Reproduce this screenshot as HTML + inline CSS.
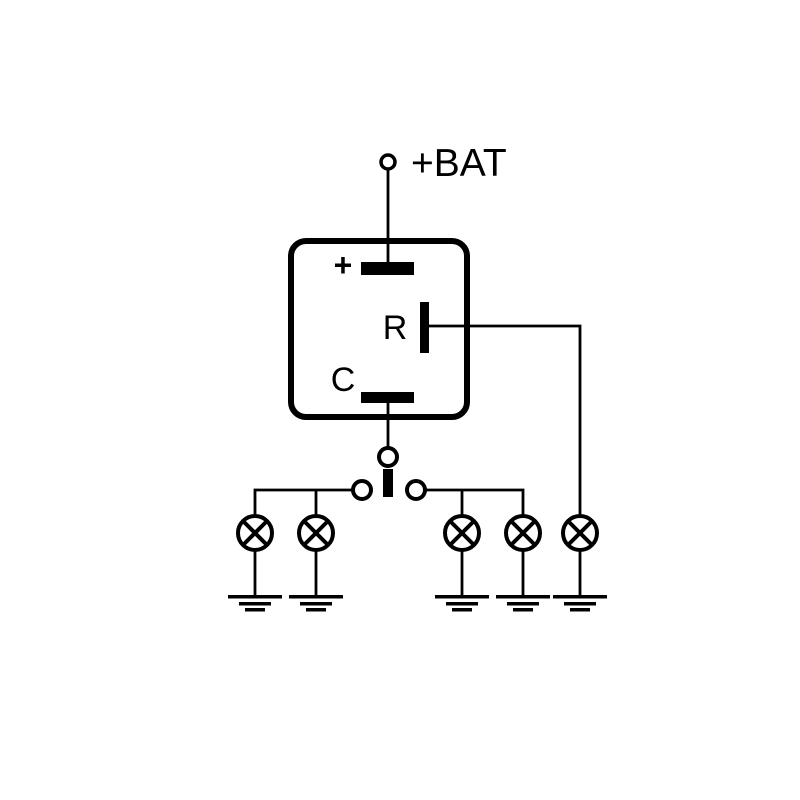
<!DOCTYPE html>
<html><head><meta charset="utf-8"><style>html,body{margin:0;padding:0;background:#fff}svg{display:block}</style></head>
<body>
<svg width="800" height="800" viewBox="0 0 800 800" xmlns="http://www.w3.org/2000/svg" font-family="Liberation Sans, Arial, sans-serif">
<rect width="800" height="800" fill="#fff"/>
<g fill="none" stroke="#000">
  <circle cx="388" cy="162" r="7" stroke-width="3.5"/>
  <line x1="388" y1="169" x2="388" y2="268" stroke-width="2.8"/>
  <rect x="291" y="241" width="176" height="176" rx="15" stroke-width="6"/>
  <line x1="388" y1="400" x2="388" y2="447" stroke-width="2.8"/>
  <circle cx="388" cy="457" r="9" stroke-width="4"/>
  <circle cx="362" cy="490" r="9" stroke-width="4"/>
  <circle cx="416" cy="490" r="9" stroke-width="4"/>
  <polyline points="429,326 580,326 580,517" stroke-width="2.8"/>
  <polyline points="255,516 255,490 353,490" stroke-width="2.8"/>
  <line x1="316" y1="490" x2="316" y2="516" stroke-width="2.8"/>
  <polyline points="425,490 523,490 523,516" stroke-width="2.8"/>
  <line x1="462" y1="490" x2="462" y2="516" stroke-width="2.8"/>
  <g stroke-width="4">
    <g transform="translate(255,533)"><circle r="17"/><line x1="-12" y1="-12" x2="12" y2="12"/><line x1="12" y1="-12" x2="-12" y2="12"/></g>
    <g transform="translate(316,533)"><circle r="17"/><line x1="-12" y1="-12" x2="12" y2="12"/><line x1="12" y1="-12" x2="-12" y2="12"/></g>
    <g transform="translate(462,533)"><circle r="17"/><line x1="-12" y1="-12" x2="12" y2="12"/><line x1="12" y1="-12" x2="-12" y2="12"/></g>
    <g transform="translate(523,533)"><circle r="17"/><line x1="-12" y1="-12" x2="12" y2="12"/><line x1="12" y1="-12" x2="-12" y2="12"/></g>
    <g transform="translate(580,533)"><circle r="17"/><line x1="-12" y1="-12" x2="12" y2="12"/><line x1="12" y1="-12" x2="-12" y2="12"/></g>
  </g>
  <g stroke-width="2.8">
    <line x1="255" y1="550" x2="255" y2="597"/>
    <line x1="316" y1="550" x2="316" y2="597"/>
    <line x1="462" y1="550" x2="462" y2="597"/>
    <line x1="523" y1="550" x2="523" y2="597"/>
    <line x1="580" y1="550" x2="580" y2="597"/>
  </g>
</g>
<g fill="#000">
  <rect x="361" y="262" width="53" height="13"/>
  <rect x="420" y="302" width="9" height="51"/>
  <rect x="361" y="392" width="53" height="11"/>
  <rect x="383" y="469" width="10" height="28"/>
</g>
<g fill="#000">
  <g transform="translate(255,0)"><rect x="-27" y="595" width="54" height="3.5"/><rect x="-16" y="602" width="32" height="3.5"/><rect x="-10" y="608" width="20" height="3.5"/></g>
  <g transform="translate(316,0)"><rect x="-27" y="595" width="54" height="3.5"/><rect x="-16" y="602" width="32" height="3.5"/><rect x="-10" y="608" width="20" height="3.5"/></g>
  <g transform="translate(462,0)"><rect x="-27" y="595" width="54" height="3.5"/><rect x="-16" y="602" width="32" height="3.5"/><rect x="-10" y="608" width="20" height="3.5"/></g>
  <g transform="translate(523,0)"><rect x="-27" y="595" width="54" height="3.5"/><rect x="-16" y="602" width="32" height="3.5"/><rect x="-10" y="608" width="20" height="3.5"/></g>
  <g transform="translate(580,0)"><rect x="-27" y="595" width="54" height="3.5"/><rect x="-16" y="602" width="32" height="3.5"/><rect x="-10" y="608" width="20" height="3.5"/></g>
</g>
<text x="411" y="176" font-size="39" fill="#000">+BAT</text>
<text x="343" y="276" font-size="32" font-weight="bold" fill="#000" text-anchor="middle">+</text>
<text x="395" y="339" font-size="34" fill="#000" text-anchor="middle">R</text>
<text x="343" y="391" font-size="34" fill="#000" text-anchor="middle">C</text>
</svg>
</body></html>
